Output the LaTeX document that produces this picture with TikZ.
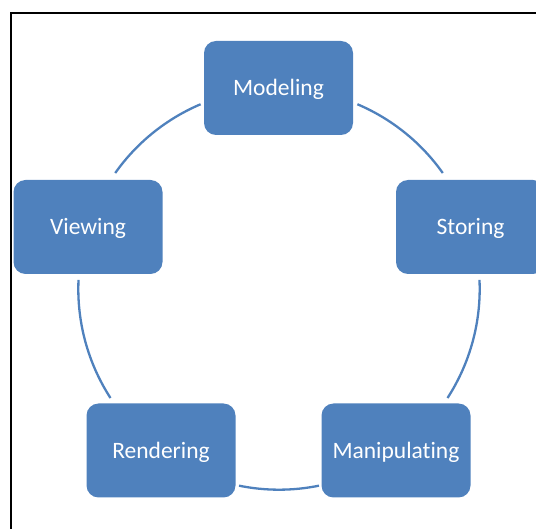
\documentclass[tikz,border=0pt]{standalone}
\usepackage{fontspec}
\setmainfont{Carlito}[RawFeature={-liga;-clig;-dlig}]
\definecolor{boxblue}{HTML}{4F81BD}
\begin{document}
\begin{tikzpicture}[x=1pt,y=1pt,
  box/.style={fill=boxblue, rounded corners=12pt, minimum width=149pt, minimum height=94pt,
    text=white, font=\fontsize{23.5}{28}\selectfont, inner sep=0pt,
    text height=19pt, text depth=3.5pt},
  link/.style={draw=boxblue, line width=2.3pt}]
\useasboundingbox (0,0) rectangle (536,528);
\begin{scope}
\clip (0,0) rectangle (536,528);
\draw[line width=2pt] (11,-1) -- (11,515) -- (537,515);
\coordinate (c) at (279,239);
\node[box] (mod) at (278.5,440) {Modeling};
\node[box] (sto) at (470.5,301) {Storing};
\node[box] (man) at (396,77.5) {Manipulating};
\node[box] (ren) at (161,77.5) {Rendering};
\node[box] (vie) at (88,301) {Viewing};
\draw[link] (c) ++(67:200.7pt) arc[start angle=67, end angle=35.3, radius=200.7pt];
\draw[link] (c) ++(2.6:200.7pt) arc[start angle=2.6, end angle=-32.9, radius=200.7pt];
\draw[link] (c) ++(-78.5:200.7pt) arc[start angle=-78.5, end angle=-101.5, radius=200.7pt];
\draw[link] (c) ++(-147.1:200.7pt) arc[start angle=-147.1, end angle=-182.6, radius=200.7pt];
\draw[link] (c) ++(144.7:200.7pt) arc[start angle=144.7, end angle=113, radius=200.7pt];
\end{scope}
\end{tikzpicture}
\end{document}
